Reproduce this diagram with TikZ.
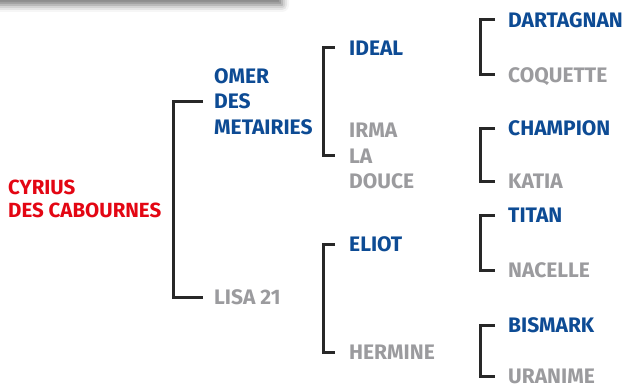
\documentclass[tikz,border=0pt]{standalone}
\usepackage{fontspec}
\setmainfont{Fira Sans}
\usetikzlibrary{shadows.blur}
\definecolor{pblue}{RGB}{13,75,148}
\definecolor{pgray}{RGB}{155,155,158}
\definecolor{pred}{RGB}{227,6,19}
\definecolor{pline}{RGB}{40,40,40}
\begin{document}
\begin{tikzpicture}[x=1pt,y=-1pt,
  lbl/.style={anchor=west,inner sep=0pt,font=\fontsize{21}{25.5}\selectfont\bfseries},
  one/.style={lbl,text height=14.5pt,text depth=0pt},
  multi/.style={lbl,align=left},
  sire/.style={text=pblue},
  dam/.style={text=pgray},
  root/.style={anchor=west,inner sep=0pt,align=left,text=pred,
    font=\fontsize{20.5}{23}\selectfont\bfseries},
  br/.style={draw=pline,line width=3pt}]
\useasboundingbox (0,0) rectangle (631,387);
\fill[white, blur shadow={shadow xshift=0pt, shadow yshift=-8pt, shadow blur radius=7pt, shadow opacity=55}] (-60,-80) rectangle (282,-3);
% nodes
\node[root] (cyr) at (8,199) {CYRIUS\\DES CABOURNES};
\node[multi,sire] (omer) at (214,101.5) {OMER\\DES\\METAIRIES};
\node[one,dam] (lisa) at (214,297.5) {LISA 21};
\node[one,sire] (ideal) at (349,48) {IDEAL};
\node[multi,dam] (irma) at (349,156) {IRMA\\LA\\DOUCE};
\node[one,sire] (eliot) at (349,244.5) {ELIOT};
\node[one,dam] (hermine) at (349,352.5) {HERMINE};
\node[one,sire] (dart) at (508,20) {DARTAGNAN};
\node[one,dam] (coq) at (508,75) {COQUETTE};
\node[one,sire] (champ) at (508,128.5) {CHAMPION};
\node[one,dam] (katia) at (508,181.5) {KATIA};
\node[one,sire] (titan) at (508,215.5) {TITAN};
\node[one,dam] (nacelle) at (508,270) {NACELLE};
\node[one,sire] (bismark) at (508,325) {BISMARK};
\node[one,dam] (uranime) at (508,376.5) {URANIME};
% brackets
\draw[br] ([xshift=-11pt]omer.west) -- ++(-30,0) |- ([xshift=-11pt]lisa.west);
\draw[br] ([xshift=-14pt]ideal.west) -- ++(-12,0) |- ([xshift=-14pt]irma.west);
\draw[br] ([xshift=-14pt]eliot.west) -- ++(-12,0) |- ([xshift=-14pt]hermine.west);
\draw[br] ([xshift=-13pt]dart.west) -- ++(-15,0) |- ([xshift=-13pt]coq.west);
\draw[br] ([xshift=-13pt]champ.west) -- ++(-15,0) |- ([xshift=-13pt]katia.west);
\draw[br] ([xshift=-13pt]titan.west) -- ++(-15,0) |- ([xshift=-13pt]nacelle.west);
\draw[br] ([xshift=-13pt]bismark.west) -- ++(-15,0) |- ([xshift=-13pt]uranime.west);
\end{tikzpicture}
\end{document}
